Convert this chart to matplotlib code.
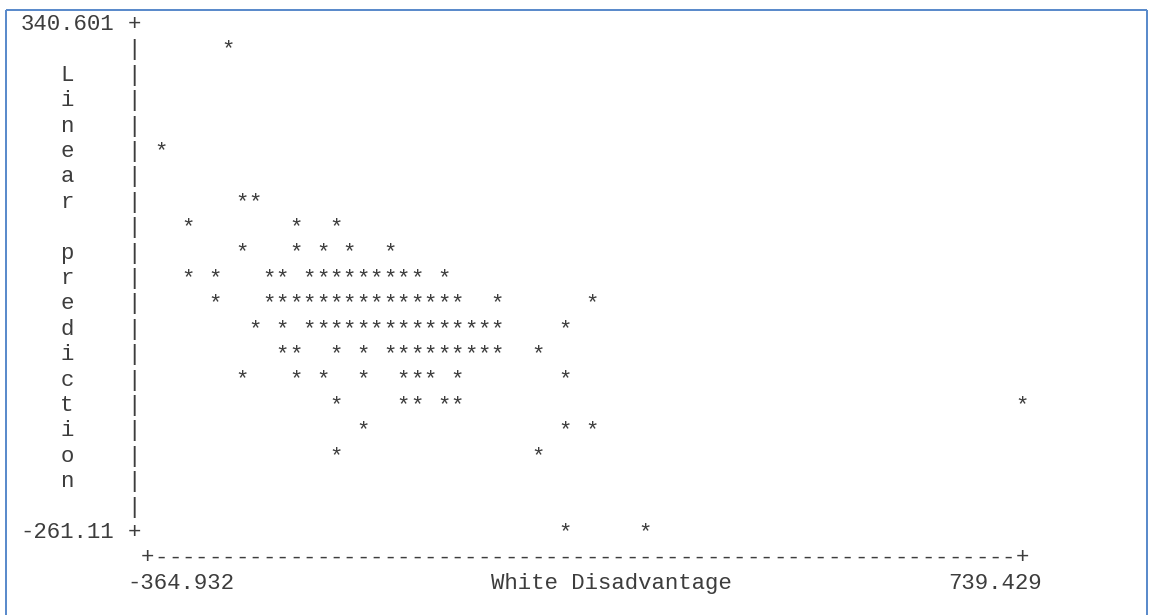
import matplotlib
matplotlib.use("Agg")
import matplotlib.pyplot as plt
from matplotlib.lines import Line2D
from matplotlib.transforms import blended_transform_factory

# ---- data -------------------------------------------------------------
x_min, x_max = -364.932, 739.429
y_min, y_max = -261.11, 340.601
x_label = "White Disadvantage"
y_label = "Linear prediction"
x_tick_labels = ["-364.932", "739.429"]
y_tick_labels = ["340.601", "-261.11"]

# predicted values (one entry per printed line of the plot)
pred_levels = [310.515, 190.173, 130.002, 99.917, 69.831, 39.745, 9.660,
               -20.426, -50.511, -80.597, -110.682, -140.768, -170.853,
               -261.11]

# white-disadvantage values plotted on each of those levels
disadv_at_level = [
    [-262.99],
    [-347.94],
    [-246.00, -229.01],
    [-313.96, -178.04, -127.07],
    [-246.00, -178.04, -144.06, -110.08, -59.11],
    [-313.96, -279.98, -212.02, -195.03, -161.05, -144.06, -127.07, -110.08,
     -93.09, -76.10, -59.11, -42.12, -25.13, 8.85],
    [-279.98, -212.02, -195.03, -178.04, -161.05, -144.06, -127.07, -110.08,
     -93.09, -76.10, -59.11, -42.12, -25.13, -8.14, 8.85, 25.84, 76.81,
     195.74],
    [-229.01, -195.03, -161.05, -144.06, -127.07, -110.08, -93.09, -76.10,
     -59.11, -42.12, -25.13, -8.14, 8.85, 25.84, 42.83, 59.82, 76.81,
     161.76],
    [-195.03, -178.04, -127.07, -93.09, -59.11, -42.12, -25.13, -8.14, 8.85,
     25.84, 42.83, 59.82, 76.81, 127.78],
    [-246.00, -178.04, -144.06, -93.09, -42.12, -25.13, -8.14, 25.84,
     161.76],
    [-127.07, -42.12, -25.13, 8.85, 25.84, 739.43],
    [-93.09, 161.76, 195.74],
    [-127.07, 127.78],
    [161.76, 263.70],
]

white_disadvantage = [x for xs in disadv_at_level for x in xs]
linear_prediction = [y for y, xs in zip(pred_levels, disadv_at_level) for _ in xs]

# ---- character-grid layout --------------------------------------------
W, H, DPI = 1152, 615, 100
CHAR_W = 13.45     # px per character cell
ROW_H = 25.4       # px per printed line
COL0 = 26.7        # centre of the first column (px from left)
BASE0 = 30.0       # baseline of the first line (px from top)
FONT = "Liberation Mono"
FSIZE = CHAR_W / 0.6 * 72 / DPI
INK = "#3d3d3d"


def colx(c):
    return (COL0 + CHAR_W * c) / W


def rowy(r):
    return 1 - (BASE0 + ROW_H * r) / H


txt = dict(family=FONT, fontsize=FSIZE, color=INK, va="baseline")

fig = plt.figure(figsize=(W / DPI, H / DPI), dpi=DPI)
fig.patch.set_facecolor("white")

# plotting area: columns 9..74, lines 0..20
ax = fig.add_axes([colx(9), rowy(20), colx(74) - colx(9), rowy(0) - rowy(20)])
ax.set_xlim(x_min, x_max)
ax.set_ylim(y_min, y_max)
ax.axis("off")

for x, y in zip(white_disadvantage, linear_prediction):
    ax.text(x, y, "*", ha="center", clip_on=False, **txt)

fig_x_data_y = blended_transform_factory(fig.transFigure, ax.transData)
data_x_fig_y = blended_transform_factory(ax.transData, fig.transFigure)

# vertical axis
for val, lab in zip([y_max, y_min], y_tick_labels):
    fig.text(colx(6) + 0.5 * CHAR_W / W, val, lab, ha="right",
             transform=fig_x_data_y, **txt)
    fig.text(colx(8), val, "+", ha="center", transform=fig_x_data_y, **txt)
for r in range(1, 20):
    fig.text(colx(8), rowy(r), "|", ha="center", **txt)

# vertical axis title, one letter per line
for i, ch in enumerate(y_label):
    if ch != " ":
        fig.text(colx(3), rowy(2 + i), ch, ha="center", **txt)

# horizontal axis
for val in (x_min, x_max):
    fig.text(val, rowy(21), "+", ha="center", transform=data_x_fig_y, **txt)
for c in range(10, 74):
    fig.text(colx(c), rowy(21), "-", ha="center", **txt)

left_edge = lambda c: colx(c) - 0.5 * CHAR_W / W
fig.text(left_edge(8), rowy(22), x_tick_labels[0], ha="left", **txt)
fig.text(left_edge(35), rowy(22), x_label, ha="left", **txt)
fig.text(left_edge(69), rowy(22), x_tick_labels[1], ha="left", **txt)

# text-box border
edge = "#5B8BCB"
lw = 2.0 * 72 / DPI
bx0, bx1, by0 = 5.5 / W, 1147.0 / W, 1 - 10.0 / H
for xs, ys in (([bx0, bx0], [0, by0]), ([bx0, bx1], [by0, by0]),
               ([bx1, bx1], [by0, 0])):
    fig.add_artist(Line2D(xs, ys, transform=fig.transFigure, color=edge,
                          lw=lw, solid_capstyle="butt"))

fig.savefig("out.png", dpi=DPI, facecolor="white")
